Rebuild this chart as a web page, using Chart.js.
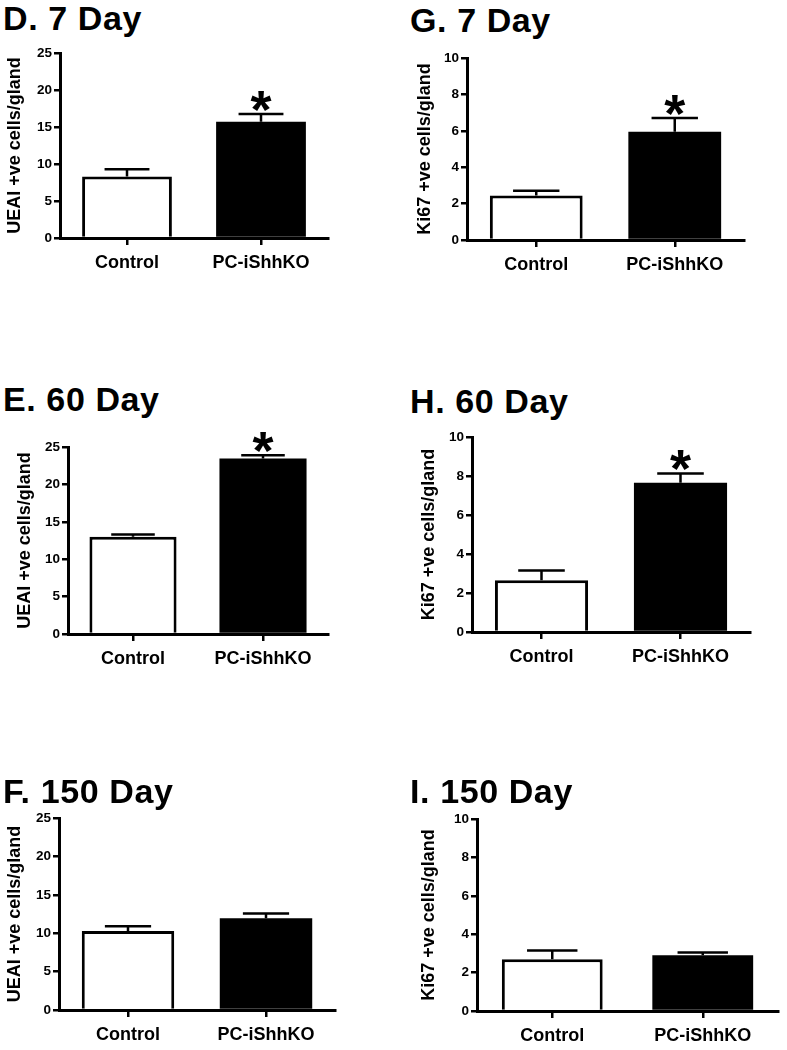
<!DOCTYPE html>
<html>
<head>
<meta charset="utf-8">
<script src="https://cdn.jsdelivr.net/npm/chart.js@4.4.1/dist/chart.umd.min.js"></script>
<style>
html,body{margin:0;padding:0;background:#fff;}
body{width:787px;height:1050px;position:relative;overflow:hidden;font-family:'Liberation Sans',Arial,sans-serif;}
canvas{position:absolute;}
.ttl{position:absolute;font-weight:bold;font-size:34px;line-height:34px;letter-spacing:0.6px;color:#000;white-space:nowrap;}
</style>
</head>
<body>
<script>
// ---------- data ----------
const categories = ['Control', 'PC-iShhKO'];

const ueai7 = [8.3, 15.7];
const ueai7Err = [1.0, 1.05];
const ueai7Sig = [false, true];

const ueai60 = [13.0, 23.45];
const ueai60Err = [0.3, 0.45];
const ueai60Sig = [false, true];

const ueai150 = [10.3, 11.95];
const ueai150Err = [0.6, 0.6];
const ueai150Sig = [false, false];

const ki7 = [2.45, 5.95];
const ki7Err = [0.25, 0.75];
const ki7Sig = [false, true];

const ki60 = [2.65, 7.65];
const ki60Err = [0.5, 0.48];
const ki60Sig = [false, true];

const ki150 = [2.7, 2.9];
const ki150Err = [0.45, 0.15];
const ki150Sig = [false, false];

const ueaiTicks = [0, 5, 10, 15, 20, 25];
const kiTicks = [0, 2, 4, 6, 8, 10];

const ueaiAxisLabel = 'UEAI +ve cells/gland';
const kiAxisLabel = 'Ki67 +ve cells/gland';

const panelTitles = ['D. 7 Day', 'E. 60 Day', 'F. 150 Day', 'G. 7 Day', 'H. 60 Day', 'I. 150 Day'];

// ---------- layout (page pixels) ----------
const FONT = "'Liberation Sans', Arial, sans-serif";
const layoutSpec = [
  {title: panelTitles[0], tx: 3,   tb: 30,  vals: ueai7,   err: ueai7Err,   sig: ueai7Sig,   ticks: ueaiTicks, label: ueaiAxisLabel, area: [60, 53, 328, 238],   cx: 0,   cw: 345, ycx: 15.5},
  {title: panelTitles[1], tx: 3,   tb: 411, vals: ueai60,  err: ueai60Err,  sig: ueai60Sig,  ticks: ueaiTicks, label: ueaiAxisLabel, area: [68, 447, 328, 634],  cx: 0,   cw: 345, ycx: 25},
  {title: panelTitles[2], tx: 3,   tb: 803, vals: ueai150, err: ueai150Err, sig: ueai150Sig, ticks: ueaiTicks, label: ueaiAxisLabel, area: [59, 818, 335, 1010], cx: 0,   cw: 345, ycx: 15.5},
  {title: panelTitles[3], tx: 410, tb: 32,  vals: ki7,     err: ki7Err,     sig: ki7Sig,     ticks: kiTicks,   label: kiAxisLabel,   area: [467, 58, 744, 240],  cx: 395, cw: 392, ycx: 425.5},
  {title: panelTitles[4], tx: 410, tb: 413, vals: ki60,    err: ki60Err,    sig: ki60Sig,    ticks: kiTicks,   label: kiAxisLabel,   area: [472, 437, 750, 632], cx: 395, cw: 392, ycx: 429.5},
  {title: panelTitles[5], tx: 410, tb: 803, vals: ki150,   err: ki150Err,   sig: ki150Sig,   ticks: kiTicks,   label: kiAxisLabel,   area: [477, 819, 778, 1011],cx: 395, cw: 392, ycx: 429.5}
];

// ---------- error bar + significance plugin ----------
const errPlugin = {
  id: 'errbars',
  afterDatasetsDraw(chart, args, opts) {
    const ctx = chart.ctx;
    const yScale = chart.scales.y;
    const meta = chart.getDatasetMeta(0);
    const values = chart.data.datasets[0].data;
    ctx.save();
    ctx.strokeStyle = '#000';
    ctx.lineWidth = 2.5;
    meta.data.forEach((bar, i) => {
      const v = values[i];
      const e = opts.errors[i];
      const x = bar.x;
      const half = bar.width / 4;
      const yTop = yScale.getPixelForValue(v);
      const yCap = yScale.getPixelForValue(v + e);
      ctx.beginPath();
      ctx.moveTo(x, yTop);
      ctx.lineTo(x, yCap);
      ctx.moveTo(x - half, yCap);
      ctx.lineTo(x + half, yCap);
      ctx.stroke();
      if (opts.stars[i]) {
        ctx.fillStyle = '#000';
        ctx.font = 'bold 54px ' + FONT;
        ctx.textAlign = 'center';
        ctx.textBaseline = 'alphabetic';
        ctx.fillText('*', x, yCap - 16 + 30);
      }
    });
    ctx.restore();
  }
};

// ---------- build panels ----------
layoutSpec.forEach((p) => {
  const [aL, aT, aR, aB] = p.area;
  const padTop = 15;
  const xH = 42;
  const canvasTop = aT - padTop;
  const canvasH = aB - canvasTop + xH;
  const yW = aL - p.cx;
  const padRight = p.cx + p.cw - aR;
  const titlePadTop = p.ycx - p.cx - 10.8;

  const cv = document.createElement('canvas');
  cv.width = p.cw;
  cv.height = canvasH;
  cv.style.left = p.cx + 'px';
  cv.style.top = canvasTop + 'px';
  cv.style.width = p.cw + 'px';
  cv.style.height = canvasH + 'px';
  document.body.appendChild(cv);

  const t = document.createElement('div');
  t.className = 'ttl';
  t.textContent = p.title;
  t.style.left = p.tx + 'px';
  t.style.top = (p.tb - 29) + 'px';
  document.body.appendChild(t);

  new Chart(cv, {
    type: 'bar',
    data: {
      labels: categories,
      datasets: [{
        data: p.vals,
        backgroundColor: ['#ffffff', '#000000'],
        borderColor: '#000000',
        borderWidth: [3, 0],
        borderSkipped: 'start',
        barPercentage: 0.67,
        categoryPercentage: 1
      }]
    },
    options: {
      responsive: false,
      animation: false,
      events: [],
      layout: {padding: {left: 0, top: padTop, right: padRight, bottom: 0}},
      plugins: {
        legend: {display: false},
        tooltip: {enabled: false},
        title: {display: false},
        errbars: {errors: p.err, stars: p.sig}
      },
      scales: {
        x: {
          offset: true,
          grid: {display: true, offset: false, drawOnChartArea: false, drawTicks: true, tickLength: 7, color: '#000', lineWidth: 2.5},
          border: {display: true, color: '#000', width: 3},
          ticks: {color: '#000', font: {family: FONT, size: 18, weight: 'bold'}, padding: 7, maxRotation: 0, autoSkip: false},
          afterFit: (s) => { s.height = xH; }
        },
        y: {
          min: p.ticks[0],
          max: p.ticks[p.ticks.length - 1],
          ticks: {stepSize: p.ticks[1] - p.ticks[0], color: '#000', font: {family: FONT, size: 13.5, weight: 'bold'}, padding: 2},
          grid: {drawOnChartArea: false, drawTicks: true, tickLength: 6, color: '#000', lineWidth: 2.5},
          border: {display: true, color: '#000', width: 3},
          title: {display: true, text: p.label, color: '#000', font: {family: FONT, size: 18, weight: 'bold'}, padding: {top: titlePadTop, bottom: 0}},
          afterFit: (s) => { s.width = yW; }
        }
      }
    },
    plugins: [errPlugin]
  });
});
</script>
</body>
</html>
